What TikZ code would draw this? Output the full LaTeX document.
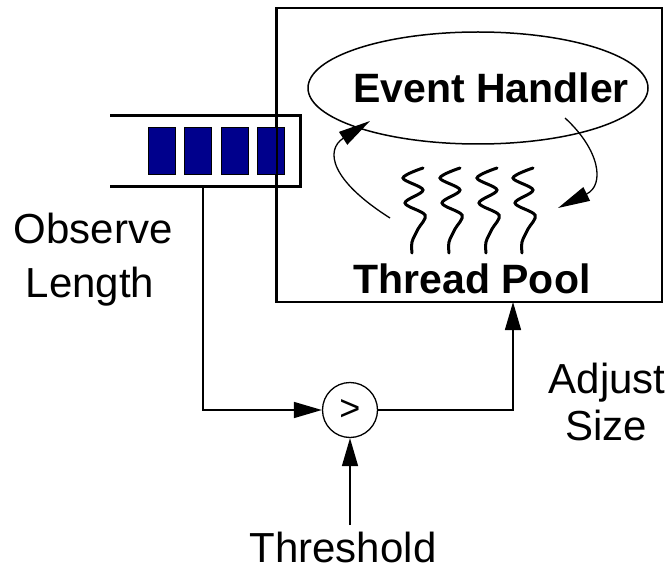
\documentclass[tikz,border=0pt]{standalone}
\usepackage{fontspec}
\setmainfont{Liberation Sans}
\usetikzlibrary{arrows.meta,shapes.geometric}
\definecolor{qblue}{RGB}{0,0,140}
\tikzset{
  lbl/.style={anchor=base,inner sep=0pt,text depth=0pt,font=\fontsize{42pt}{48pt}\selectfont},
  blbl/.style={anchor=base,inner sep=0pt,font=\fontsize{41pt}{48pt}\selectfont\bfseries},
  flow/.style={line width=1.5pt,-{Triangle[length=28pt,width=16pt]}},
  loop/.style={line width=1.3pt,-{Triangle[length=32pt,width=15pt]}},
  slot/.style={draw=black,line width=1pt,fill=qblue,minimum width=27pt,minimum height=46pt,inner sep=0pt},
  thread/.pic={\draw[line width=3pt,line cap=round] plot[smooth,tension=0.55] coordinates {(11,-85)(-9,-75)(11,-63)(-7,-50)(13,-38)(6,-24)(0,-11)(0,0)};}
}
\begin{document}
\begin{tikzpicture}[x=1pt,y=-1pt]
\useasboundingbox (0,0) rectangle (671,572);
% outer box
\node[draw,line width=1.5pt,minimum width=386pt,minimum height=294pt,inner sep=0pt] (box) at (469,155) {};
% queue
\draw[line width=3pt] (110,116) -- (300,116) -- (300,186) -- (110,186);
\node[slot] (s1) at (161.5,151) {};
\node[slot] (s2) at (197.5,151) {};
\node[slot] (s3) at (234.5,151) {};
\node[slot] (s4) at (270.5,151) {};
\draw[line width=1.5pt] (277,8) -- (277,302);
% event handler
\node[ellipse,draw,line width=1.5pt,minimum width=340pt,minimum height=112pt,inner sep=0pt] (eh) at (478,88) {};
\node[blbl] (ehl) at (491,103) {Event Handler};
% threads
\pic at (412,253) {thread};
\pic at (449,253) {thread};
\pic at (486,253) {thread};
\pic at (522,253) {thread};
\node[blbl] (tp) at (472,293) {Thread Pool};
% loop arrows
\coordinate (la) at (390,218);
\coordinate (lb) at (370,121);
\coordinate (ra) at (565,118);
\coordinate (rb) at (558,208);
\draw[loop] (la) .. controls (330,180) and (325,150) .. (lb);
\draw[loop] (ra) .. controls (600,150) and (605,185) .. (rb);
% comparator
\node[circle,draw,line width=1.3pt,minimum size=55pt,inner sep=0pt] (cmp) at (350,410) {\fontsize{36pt}{36pt}\selectfont >};
\coordinate (qout) at (203,186);
\coordinate (boxin) at (513,302);
\coordinate (thrtop) at (350,525);
\draw[flow] (qout) |- (cmp.west);
\draw[flow] (cmp.east) -| (boxin);
\draw[flow] (thrtop) -- (cmp.south);
% labels
\node[lbl] (obs) at (93,243) {Observe};
\node[lbl] (len) at (90,297) {Length};
\node[lbl] (adj) at (607,393) {Adjust};
\node[lbl] (siz) at (606,440) {Size};
\node[lbl] (thr) at (343,562) {Threshold};
\end{tikzpicture}
\end{document}
